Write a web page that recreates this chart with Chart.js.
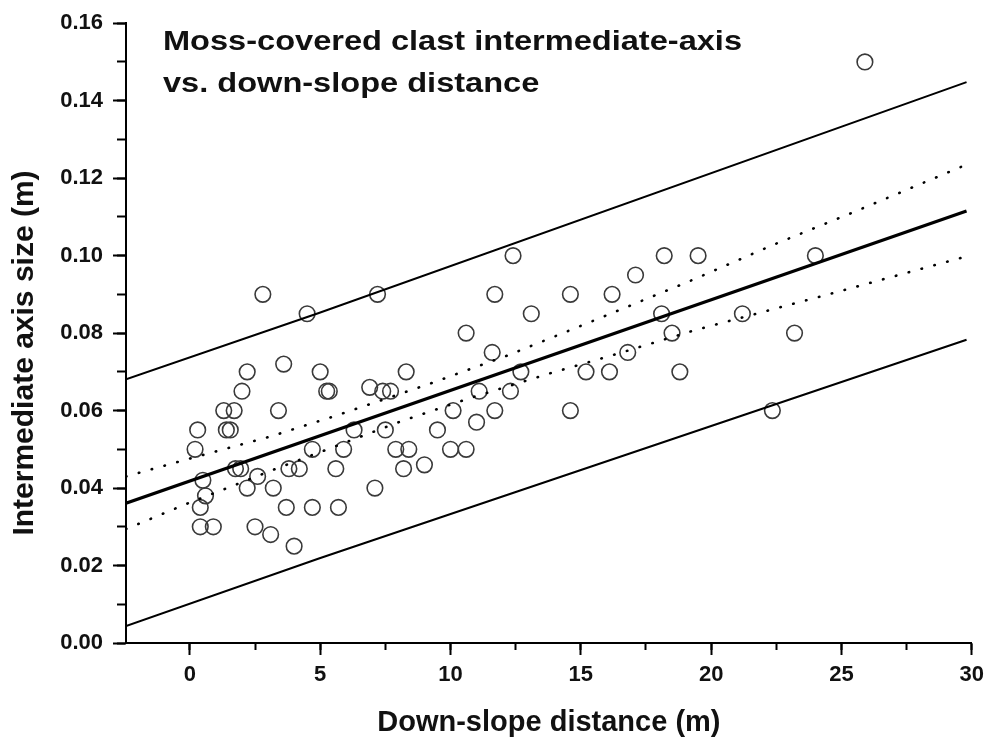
<!DOCTYPE html>
<html>
<head>
<meta charset="utf-8">
<script src="https://cdn.jsdelivr.net/npm/chart.js@4"></script>
<style>
html,body{margin:0;padding:0;background:#fff;}
#wrap{width:991px;height:747px;position:relative;}
</style>
</head>
<body>
<div id="wrap"><canvas id="c" width="991" height="747"></canvas></div>
<script>
// ---- data ----
const titleLines = ["Moss-covered clast intermediate-axis", "vs. down-slope distance"];
const xTitle = "Down-slope distance (m)";
const yTitle = "Intermediate axis size (m)";

const distX = [25.9,24.0,19.5,18.2,12.4,17.1,2.8,7.2,11.7,14.6,16.2,4.5,13.1,18.1,21.2,10.6,18.5,23.2,11.6,16.8,
  3.6,2.2,5.0,8.3,12.7,15.2,16.1,18.8,6.9,2.0,5.25,5.35,7.4,7.7,11.1,12.3,1.3,1.7,3.4,10.1,11.7,14.6,22.35,
  0.3,1.4,1.55,6.3,7.5,9.5,0.2,4.7,5.9,7.9,8.4,10.0,10.6,11.0,9.0,1.75,1.95,3.8,4.2,5.6,8.2,2.6,0.5,2.2,3.2,7.1,
  0.6,0.4,3.7,4.7,5.7,0.4,0.9,2.5,3.1,4.0];
const sizeY = [0.150,0.100,0.100,0.100,0.100,0.095,0.090,0.090,0.090,0.090,0.090,0.085,0.085,0.085,0.085,0.080,0.080,0.080,0.075,0.075,
  0.072,0.070,0.070,0.070,0.070,0.070,0.070,0.070,0.066,0.065,0.065,0.065,0.065,0.065,0.065,0.065,0.060,0.060,0.060,0.060,0.060,0.060,0.060,
  0.055,0.055,0.055,0.055,0.055,0.055,0.050,0.050,0.050,0.050,0.050,0.050,0.050,0.057,0.046,0.045,0.045,0.045,0.045,0.045,0.045,0.043,0.042,0.040,0.040,0.040,
  0.038,0.035,0.035,0.035,0.035,0.030,0.030,0.030,0.028,0.025];

// regression line and prediction limits (end points)
const fitX = [-2.45, 29.8];
const fitY = [0.0361, 0.1115];
const upperPredX = [-2.45, 4.95, 29.8];
const upperPredY = [0.0681, 0.0852, 0.1448];
const lowerPredX = [-2.45, 4.95, 29.8];
const lowerPredY = [0.0044, 0.0218, 0.0783];
// confidence band
const upperConfX = [-2.45, -0.06, 3.04, 5.57, 9.15, 12.22, 15.27, 19.35, 22.39, 25.46, 29.8];
const upperConfY = [0.0430, 0.0475, 0.0532, 0.0586, 0.0668, 0.0743, 0.0826, 0.0939, 0.1028, 0.1112, 0.1235];
const lowerConfX = [-2.45, -0.06, 1.51, 3.04, 5.63, 8.13, 10.69, 13.76, 16.32, 19.35, 24.44, 29.8];
const lowerConfY = [0.0294, 0.0361, 0.0402, 0.0443, 0.0509, 0.0573, 0.0631, 0.0695, 0.0745, 0.0807, 0.0899, 0.0998];

const xMin = -2.45, xMax = 30, xMajor = 5, xMinor = 2.5;
const yMin = 0, yMax = 0.16, yMajor = 0.02, yMinor = 0.01;

// ---- build ----
const pts = (xs, ys) => xs.map((x, i) => ({x: x, y: ys[i]}));
const FONT = "'Liberation Sans', Arial, sans-serif";

const lineDs = (xs, ys, w, dash) => ({
  type: 'line', data: pts(xs, ys), borderColor: '#000', borderWidth: w,
  borderDash: dash || [], pointRadius: 0, fill: false, tension: 0, borderCapStyle: dash ? 'round' : 'butt'
});

const textPlugin = {
  id: 'texts',
  afterDraw(chart) {
    const ctx = chart.ctx;
    ctx.save();
    ctx.fillStyle = '#111';
    ctx.font = "bold 28px " + FONT;
    ctx.textAlign = 'left';
    ctx.textBaseline = 'alphabetic';
    const w = ctx.measureText(titleLines[0]).width;
    const sx = 579 / w;
    ctx.save();
    ctx.translate(163, 0);
    ctx.scale(sx, 1);
    ctx.fillText(titleLines[0], 0, 50);
    ctx.fillText(titleLines[1], 0, 92);
    ctx.restore();
    ctx.translate(25, 353);
    ctx.rotate(-Math.PI / 2);
    ctx.textAlign = 'center';
    ctx.textBaseline = 'middle';
    ctx.font = "bold 30px " + FONT;
    ctx.fillText(yTitle, 0, 0);
    ctx.restore();
  }
};

new Chart(document.getElementById('c'), {
  type: 'scatter',
  data: {
    datasets: [
      lineDs(upperPredX, upperPredY, 2),
      lineDs(lowerPredX, lowerPredY, 2),
      lineDs(upperConfX, upperConfY, 2.6, [0.5, 12.8]),
      lineDs(lowerConfX, lowerConfY, 2.6, [0.5, 12.8]),
      lineDs(fitX, fitY, 3.2),
      {
        type: 'scatter', data: pts(distX, sizeY),
        pointStyle: 'circle', pointRadius: 7.8, pointBorderWidth: 1.6,
        borderColor: '#3a3a3a', backgroundColor: 'rgba(0,0,0,0)'
      }
    ]
  },
  options: {
    responsive: false,
    animation: false,
    devicePixelRatio: 1,
    layout: { padding: { left: 0, right: 19, top: 21, bottom: 0 } },
    plugins: { legend: { display: false }, tooltip: { enabled: false }, title: { display: false } },
    scales: {
      x: {
        type: 'linear', position: 'bottom', min: xMin, max: xMax, weight: 1,
        border: { display: true, color: '#000', width: 2 },
        grid: { display: true, drawOnChartArea: false, drawTicks: true, tickLength: 12, tickColor: '#000', tickWidth: 2 },
        ticks: { stepSize: xMajor, includeBounds: false, color: '#111', padding: 7,
                 font: { family: FONT, size: 22, weight: 'bold' }, maxRotation: 0,
                 callback: v => String(v) },
        title: { display: true, text: xTitle, color: '#111', padding: { top: 0, bottom: 7 },
                 font: { family: FONT, size: 29, weight: 'bold' } },
        afterFit: s => { s.height = 104; }
      },
      xm: {
        type: 'linear', position: 'bottom', min: xMin, max: xMax, weight: 0,
        border: { display: false },
        grid: { display: true, drawOnChartArea: false, drawTicks: true, tickLength: 7, tickColor: '#000', tickWidth: 2 },
        ticks: { stepSize: xMinor, includeBounds: false, display: false },
        afterFit: s => { s.height = 0; }
      },
      y: {
        type: 'linear', position: 'left', min: yMin, max: yMax, weight: 1,
        border: { display: true, color: '#000', width: 2 },
        grid: { display: true, drawOnChartArea: false, drawTicks: true, tickLength: 13, tickColor: '#000', tickWidth: 2 },
        ticks: { stepSize: yMajor, color: '#111', padding: 10,
                 font: { family: FONT, size: 22, weight: 'bold' },
                 callback: v => Number(v).toFixed(2) },
        afterFit: s => { s.width = 126; }
      },
      ym: {
        type: 'linear', position: 'left', min: yMin, max: yMax, weight: 0,
        border: { display: false },
        grid: { display: true, drawOnChartArea: false, drawTicks: true, tickLength: 9, tickColor: '#000', tickWidth: 2 },
        ticks: { stepSize: yMinor, display: false },
        afterFit: s => { s.width = 0; }
      }
    }
  },
  plugins: [textPlugin]
});
</script>
</body>
</html>
